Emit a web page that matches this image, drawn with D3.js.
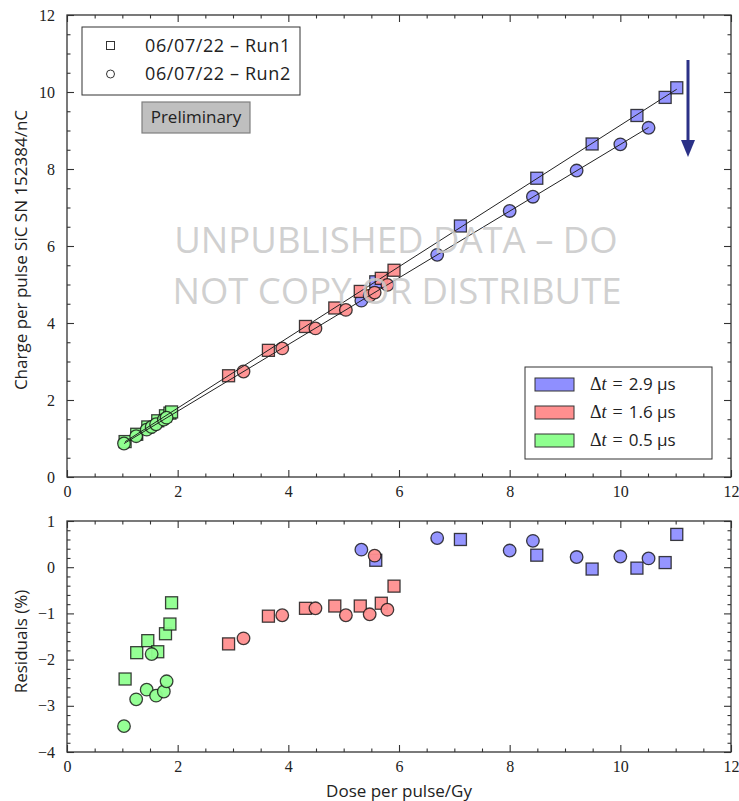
<!DOCTYPE html>
<html>
<head>
<meta charset="utf-8">
<script src="https://cdn.jsdelivr.net/npm/d3@7"></script>
<style>
  body { margin: 0; background: #fff; }
  svg { display: block; }
  .sans { font-family: "Open Sans", "DejaVu Sans", sans-serif; }
  .tick text { font-family: "Liberation Serif", "DejaVu Serif", serif; font-size: 16px; fill: #222; }
</style>
</head>
<body>
<div id="chart"></div>
<script>
// groups (pulse spacing)
const groups = ["2.9", "1.6", "0.5"];
const groupColors = ["#8f8fff", "#ff8f8f", "#8fff8f"];

// Run1 (squares)
const run1Group = ["2.9","2.9","2.9","2.9","2.9","2.9","2.9",
                   "1.6","1.6","1.6","1.6","1.6","1.6","1.6",
                   "0.5","0.5","0.5","0.5","0.5","0.5","0.5"];
const run1Dose = [5.58, 7.11, 8.49, 9.49, 10.30, 10.81, 11.02,
                  2.92, 3.64, 4.31, 4.84, 5.30, 5.68, 5.91,
                  1.05, 1.26, 1.46, 1.64, 1.78, 1.86, 1.89];
const run1Charge = [5.07, 6.52, 7.76, 8.65, 9.39, 9.86, 10.11,
                    2.63, 3.29, 3.91, 4.39, 4.82, 5.16, 5.37,
                    0.92, 1.11, 1.30, 1.46, 1.59, 1.66, 1.69];
const run1Resid = [0.15, 0.60, 0.26, -0.04, -0.02, 0.10, 0.71,
                   -1.66, -1.06, -0.89, -0.84, -0.84, -0.78, -0.41,
                   -2.42, -1.85, -1.59, -1.83, -1.44, -1.23, -0.77];

// Run2 (circles)
const run2Group = ["2.9","2.9","2.9","2.9","2.9","2.9","2.9",
                   "1.6","1.6","1.6","1.6","1.6","1.6","1.6",
                   "0.5","0.5","0.5","0.5","0.5","0.5","0.5"];
const run2Dose = [5.32, 6.69, 8.00, 8.42, 9.21, 10.00, 10.51,
                  3.19, 3.89, 4.49, 5.04, 5.47, 5.56, 5.79,
                  1.03, 1.25, 1.44, 1.53, 1.61, 1.75, 1.80];
const run2Charge = [4.58, 5.77, 6.91, 7.28, 7.96, 8.64, 9.07,
                    2.74, 3.34, 3.86, 4.34, 4.71, 4.79, 4.99,
                    0.87, 1.06, 1.23, 1.30, 1.37, 1.49, 1.54];
const run2Resid = [0.38, 0.63, 0.36, 0.57, 0.22, 0.23, 0.19,
                   -1.54, -1.04, -0.89, -1.04, -1.02, 0.25, -0.92,
                   -3.44, -2.86, -2.65, -1.88, -2.78, -2.69, -2.47];

const xTicks = [0, 2, 4, 6, 8, 10, 12];
const yTopTicks = [0, 2, 4, 6, 8, 10, 12];
const yResTicks = [-4, -3, -2, -1, 0, 1];

const W = 739, H = 801;
const L = 67, R = 731;
const topT = 15, topB = 477;
const botT = 521, botB = 752;

const svg = d3.select("#chart").append("svg")
  .attr("width", W).attr("height", H);

const x = d3.scaleLinear().domain([0, 12]).range([L, R]);
const yTop = d3.scaleLinear().domain([0, 12]).range([topB, topT]);
const yRes = d3.scaleLinear().domain([-4, 1]).range([botB, botT]);
const color = d3.scaleOrdinal().domain(groups).range(groupColors);

function makeRows(dose, charge, resid, grp) {
  return dose.map((d, i) => ({dose: d, charge: charge[i], resid: resid[i], group: grp[i]}));
}
const run1 = makeRows(run1Dose, run1Charge, run1Resid, run1Group);
const run2 = makeRows(run2Dose, run2Charge, run2Resid, run2Group);

// least squares line
function linFit(rows) {
  let mx = d3.mean(rows, d => d.dose), my = d3.mean(rows, d => d.charge);
  let sxy = d3.sum(rows, d => (d.dose - mx) * (d.charge - my));
  let sxx = d3.sum(rows, d => (d.dose - mx) ** 2);
  let b = sxy / sxx;
  return {b: b, a: my - b * mx};
}

function range(a, b, step) {
  let out = [];
  for (let v = a; v <= b + 1e-9; v += step) out.push(+v.toFixed(4));
  return out;
}

function drawAxes(g, yScale, top, bottom, yMajor, yMinorStep) {
  let xMinor = range(0, 12, 0.5).filter(v => !xTicks.includes(v));
  let yMinor = range(yScale.domain()[0], yScale.domain()[1], yMinorStep)
    .filter(v => !yMajor.some(m => Math.abs(m - v) < 1e-6));

  let add = (axis, tx, ty) => g.append("g")
    .attr("transform", `translate(${tx},${ty})`)
    .call(axis)
    .call(s => s.select(".domain").remove())
    .call(s => s.selectAll(".tick line").attr("stroke", "#333").attr("stroke-width", 1.1));

  add(d3.axisBottom(x).tickValues(xTicks).tickFormat(d3.format("d")).tickSizeInner(-7).tickSizeOuter(0).tickPadding(9), 0, bottom);
  add(d3.axisBottom(x).tickValues(xMinor).tickFormat("").tickSizeInner(-3.5).tickSizeOuter(0), 0, bottom);
  add(d3.axisTop(x).tickValues(xTicks).tickFormat("").tickSizeInner(-7).tickSizeOuter(0), 0, top);
  add(d3.axisTop(x).tickValues(xMinor).tickFormat("").tickSizeInner(-3.5).tickSizeOuter(0), 0, top);
  add(d3.axisLeft(yScale).tickValues(yMajor).tickFormat(d3.format("d")).tickSizeInner(-7).tickSizeOuter(0).tickPadding(12), L, 0);
  add(d3.axisLeft(yScale).tickValues(yMinor).tickFormat("").tickSizeInner(-3.5).tickSizeOuter(0), L, 0);
  add(d3.axisRight(yScale).tickValues(yMajor).tickFormat("").tickSizeInner(-7).tickSizeOuter(0), R, 0);
  add(d3.axisRight(yScale).tickValues(yMinor).tickFormat("").tickSizeInner(-3.5).tickSizeOuter(0), R, 0);

  g.append("rect")
    .attr("x", L).attr("y", top).attr("width", R - L).attr("height", bottom - top)
    .attr("fill", "none").attr("stroke", "#333").attr("stroke-width", 1.3);
}

// marker drawing, grouped so blue first, then red, then green
function drawMarkers(g, yAcc, yScale) {
  groups.forEach(grp => {
    g.selectAll(null).data(run1.filter(d => d.group === grp)).enter()
      .append("rect")
      .attr("x", d => x(d.dose) - 6).attr("y", d => yScale(yAcc(d)) - 6)
      .attr("width", 12).attr("height", 12)
      .attr("fill", d => color(d.group)).attr("fill-opacity", 0.95)
      .attr("stroke", "#111").attr("stroke-opacity", 0.8).attr("stroke-width", 1.3);
    g.selectAll(null).data(run2.filter(d => d.group === grp)).enter()
      .append("circle")
      .attr("cx", d => x(d.dose)).attr("cy", d => yScale(yAcc(d))).attr("r", 6.3)
      .attr("fill", d => color(d.group)).attr("fill-opacity", 0.95)
      .attr("stroke", "#111").attr("stroke-opacity", 0.8).attr("stroke-width", 1.3);
  });
}

// ---- top panel ----
const gTop = svg.append("g");
drawMarkers(gTop, d => d.charge, yTop);

[run1, run2].forEach(rows => {
  let f = linFit(rows);
  let ext = d3.extent(rows, d => d.dose);
  gTop.append("line")
    .attr("x1", x(ext[0])).attr("y1", yTop(f.a + f.b * ext[0]))
    .attr("x2", x(ext[1])).attr("y2", yTop(f.a + f.b * ext[1]))
    .attr("stroke", "#222").attr("stroke-width", 1);
});

drawAxes(gTop, yTop, topT, topB, yTopTicks, 0.5);

// run legend
const leg1 = gTop.append("g");
leg1.append("rect").attr("x", 82).attr("y", 27).attr("width", 218).attr("height", 68)
  .attr("fill", "#fff").attr("stroke", "#333").attr("stroke-width", 1);
leg1.append("rect").attr("x", 106.5).attr("y", 41.5).attr("width", 8).attr("height", 8)
  .attr("fill", "#fff").attr("stroke", "#333").attr("stroke-width", 1);
leg1.append("circle").attr("cx", 110.5).attr("cy", 74).attr("r", 4)
  .attr("fill", "#fff").attr("stroke", "#333").attr("stroke-width", 1);
["06/07/22 – Run1", "06/07/22 – Run2"].forEach((t, i) => {
  leg1.append("text").attr("class", "sans").attr("x", 145).attr("y", 52 + i * 28)
    .attr("font-size", 18).attr("letter-spacing", 0.6).attr("fill", "#222").text(t);
});

// preliminary tag
gTop.append("rect").attr("x", 142).attr("y", 102).attr("width", 108).attr("height", 31)
  .attr("fill", "#bfbfbf").attr("stroke", "#7f7f7f").attr("stroke-width", 1.2);
gTop.append("text").attr("class", "sans").attr("x", 196).attr("y", 123)
  .attr("text-anchor", "middle").attr("font-size", 17).attr("fill", "#222").text("Preliminary");

// dt legend
const leg2 = gTop.append("g");
leg2.append("rect").attr("x", 525).attr("y", 367).attr("width", 187).attr("height", 92)
  .attr("fill", "#fff").attr("stroke", "#333").attr("stroke-width", 1);
groups.forEach((grp, i) => {
  let yy = 384 + i * 28;
  leg2.append("rect").attr("x", 535).attr("y", yy - 6).attr("width", 39).attr("height", 13)
    .attr("fill", color(grp)).attr("stroke", "#333").attr("stroke-width", 1);
  let t = leg2.append("text").attr("x", 590).attr("y", yy + 6)
    .attr("font-size", 18).attr("fill", "#222")
    .attr("font-family", "Liberation Serif, DejaVu Serif, serif");
  t.append("tspan").text("Δ");
  t.append("tspan").attr("font-style", "italic").text("t");
  t.append("tspan").attr("dx", 6).text("=");
  t.append("tspan").attr("dx", 6).attr("font-family", "Open Sans, DejaVu Sans, sans-serif")
    .attr("font-size", 17).text(grp + " μs");
});

// arrow
gTop.append("line").attr("x1", 688).attr("y1", 60).attr("x2", 688).attr("y2", 142)
  .attr("stroke", "#2b3187").attr("stroke-width", 3);
gTop.append("path").attr("d", "M681,140 L695,140 L688,157 Z").attr("fill", "#2b3187");

// watermark
const wm = gTop.append("g").attr("class", "sans").attr("fill", "#c8c8c8").attr("fill-opacity", 0.85)
  .attr("font-size", 36.5).attr("text-anchor", "middle");
wm.append("text").attr("x", 396).attr("y", 253).text("UNPUBLISHED DATA – DO");
wm.append("text").attr("x", 397).attr("y", 304).text("NOT COPY OR DISTRIBUTE");

// axis title top
svg.append("text").attr("class", "sans")
  .attr("transform", `translate(27,${(topT + topB) / 2 + 4}) rotate(-90)`)
  .attr("text-anchor", "middle").attr("font-size", 17).attr("fill", "#222")
  .text("Charge per pulse SiC SN 152384/nC");

// ---- residual panel ----
const gBot = svg.append("g");
drawMarkers(gBot, d => d.resid, yRes);
drawAxes(gBot, yRes, botT, botB, yResTicks, 0.2);

svg.append("text").attr("class", "sans")
  .attr("transform", `translate(27,${(botT + botB) / 2 + 5}) rotate(-90)`)
  .attr("text-anchor", "middle").attr("font-size", 17).attr("fill", "#222")
  .text("Residuals (%)");

svg.append("text").attr("class", "sans")
  .attr("x", (L + R) / 2).attr("y", 797)
  .attr("text-anchor", "middle").attr("font-size", 17).attr("fill", "#222")
  .text("Dose per pulse/Gy");
</script>
</body>
</html>
